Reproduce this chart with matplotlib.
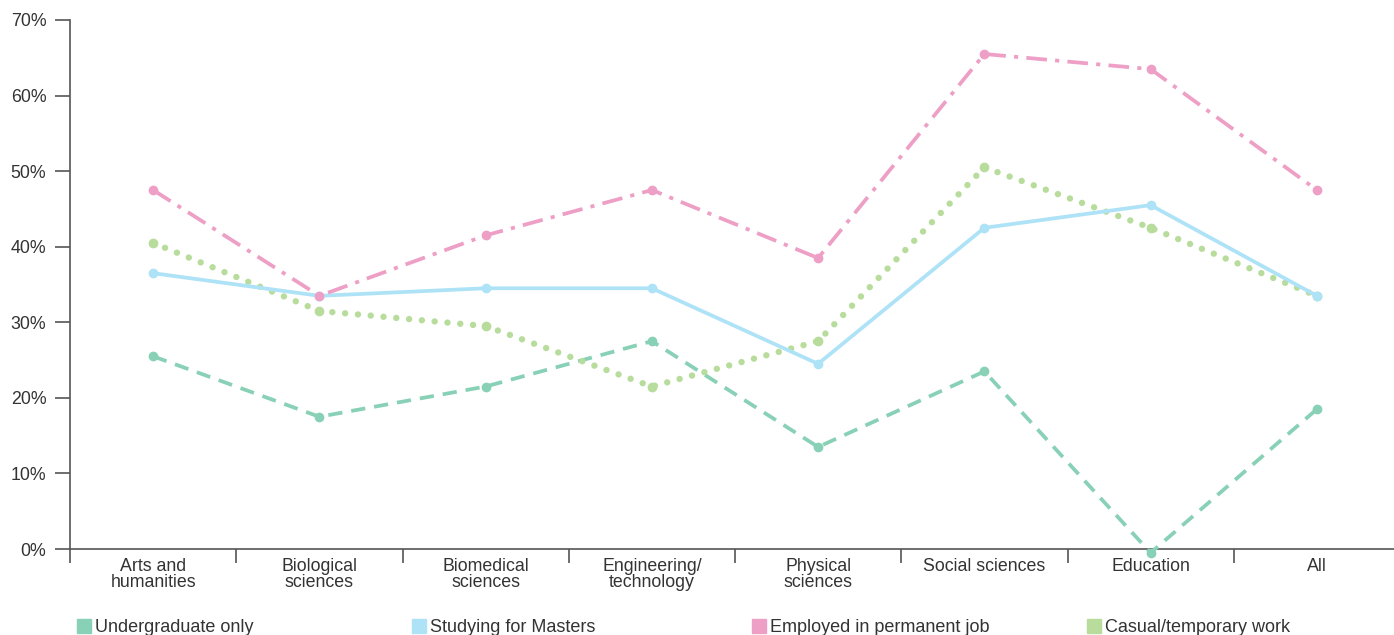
import matplotlib
matplotlib.use("Agg")
import matplotlib.pyplot as plt
from matplotlib.lines import Line2D
from matplotlib.ticker import FixedLocator, FuncFormatter

plt.rcParams['font.family'] = ['Liberation Sans', 'DejaVu Sans']

categories = ["Arts and\nhumanities", "Biological\nsciences", "Biomedical\nsciences",
              "Engineering/\ntechnology", "Physical\nsciences", "Social sciences",
              "Education", "All"]
undergrad = [25.5, 17.5, 21.5, 27.5, 13.5, 23.5, -0.5, 18.5]
masters = [36.5, 33.5, 34.5, 34.5, 24.5, 42.5, 45.5, 33.5]
permanent = [47.5, 33.5, 41.5, 47.5, 38.5, 65.5, 63.5, 47.5]
casual = [40.5, 31.5, 29.5, 21.5, 27.5, 50.5, 42.5, 33.5]
series_names = ["Undergraduate only", "Studying for Masters",
                "Employed in permanent job", "Casual/temporary work"]
yticks = [0, 10, 20, 30, 40, 50, 60, 70]

c_teal = "#88d1b7"
c_blue = "#aee2f7"
c_pink = "#ee9fc6"
c_green = "#b7dc9c"
txt = "#333333"
axc = "#555555"

fig = plt.figure(figsize=(13.94, 6.35), dpi=100)
ax = fig.add_axes([70/1394, 86/635, 1330/1394, 529/635])

x = list(range(len(categories)))
lw = 2.7
ax.plot(x, undergrad, color=c_teal, lw=lw, dashes=(3.8, 2.4), marker='o', ms=6,
        zorder=3, clip_on=False)
ax.plot(x, casual, color=c_green, lw=4.6, dashes=(0.01, 2.0), dash_capstyle='round',
        marker='o', ms=6, zorder=4, clip_on=False)
ax.plot(x, masters, color=c_blue, lw=lw, marker='o', ms=6, zorder=5, clip_on=False)
ax.plot(x, permanent, color=c_pink, lw=lw, dashes=(5.5, 2.2, 1.1, 2.2), marker='o', ms=6,
        zorder=6, clip_on=False)

ax.set_xlim(-0.5, len(categories) - 0.5)
ax.set_ylim(0, 70)
for s in ['top', 'right']:
    ax.spines[s].set_visible(False)
ax.spines['left'].set_color(axc)
ax.spines['bottom'].set_color(axc)
ax.spines['left'].set_linewidth(1.2)
ax.spines['bottom'].set_linewidth(1.2)

ax.yaxis.set_major_locator(FixedLocator(yticks))
ax.yaxis.set_major_formatter(FuncFormatter(lambda v, p: f"{int(v)}%"))
ax.tick_params(axis='y', length=11, width=1.2, color=axc, labelsize=12.8, labelcolor=txt, pad=6)

ax.set_xticks([i - 0.5 for i in range(len(categories))], minor=False)
ax.set_xticklabels([])
ax.tick_params(axis='x', which='major', length=10, width=1.2, color=axc)
ax.set_xticks(x, minor=True)
ax.set_xticklabels(categories, minor=True)
ax.tick_params(axis='x', which='minor', length=0, labelsize=12.8, labelcolor=txt, pad=6.5)
for lab in ax.get_xticklabels(minor=True):
    lab.set_linespacing(0.92)

colors = [c_teal, c_blue, c_pink, c_green]
xpos = [79, 414, 754, 1089]
for name, c, xp in zip(series_names, colors, xpos):
    h = Line2D([], [], marker='s', ls='none', color=c, ms=9.5)
    fig.legend([h], [name], loc='center left', bbox_to_anchor=(xp/1394, 7/635),
               frameon=False, fontsize=13, handlelength=0.55, handletextpad=0.35,
               borderpad=0, borderaxespad=0, labelcolor=txt)

fig.savefig("out.png", dpi=100)
